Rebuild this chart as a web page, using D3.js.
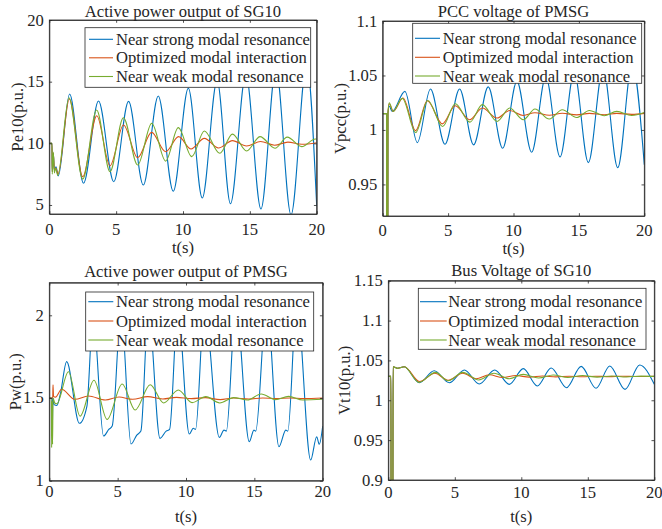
<!DOCTYPE html>
<html><head><meta charset="utf-8">
<script src="https://cdn.jsdelivr.net/npm/d3@7"></script>
<style>
body{margin:0;background:#fff}
text{font-family:"Liberation Serif","Times New Roman",serif;fill:#262626}
</style>
</head><body>
<svg id="chart" width="662" height="529"></svg>
<script>
// ---------------- data ----------------
const seriesNames = ["Near strong modal resonance","Optimized modal interaction","Near weak modal resonance"];
const timeTicks = [0,5,10,15,20];

// Panel 1: Active power output of SG10 (Pe10)
const pe10Ticks = [5,10,15,20];
const pe10Strong = [[0,10],[0.2,10],[0.22,7.7],[0.3,9.2],[0.38,7.8],[0.5,8.1],[0.67,7.35],[1.52,14.0],[2.56,6.76],[3.68,13.43],[4.82,6.89],[5.93,13.4],[7.03,6.62],[8.15,13.84],[9.27,6.12],[10.4,14.46],[11.44,5.57],[12.55,15.1],[13.55,5.1],[14.7,15.6],[15.83,4.68],[16.95,16.1],[18.08,4.2],[19.25,16.5],[20,4.9]];
const pe10Optimized = [[0,10],[0.2,10],[0.22,7.7],[0.3,9.2],[0.38,7.8],[0.5,8.0],[0.65,7.5],[1.5,13.6],[2.5,7.29],[3.55,12.24],[4.54,8.18],[5.55,11.49],[6.61,8.83],[7.65,10.89],[8.7,9.32],[9.67,10.54],[10.6,9.54],[11.6,10.4],[12.65,9.62],[13.7,10.22],[14.75,9.78],[15.8,10.15],[16.85,9.85],[17.85,10.1],[18.9,9.92],[20,10.05]];
const pe10Weak = [[0,10],[0.2,10],[0.22,7.5],[0.3,9.3],[0.38,7.6],[0.47,8.0],[0.63,7.4],[1.47,13.7],[2.5,7.1],[3.54,12.7],[4.54,7.7],[5.54,12.08],[6.61,8.24],[7.66,11.62],[8.7,8.56],[9.65,11.27],[10.65,8.92],[11.6,11.0],[12.75,9.19],[13.7,10.75],[14.76,9.38],[15.76,10.54],[16.88,9.6],[17.8,10.5],[18.88,9.73],[19.9,10.35],[20,10.33]];

// Panel 2: PCC voltage of PMSG (Vpcc)
const vpccTicks = [0.95,1,1.05,1.1];
const vpccStrong = [[0,1.015],[0.3,1.015],[0.31,0.7],[0.38,0.7],[0.4,1.015],[0.5,1.022],[0.72,1.017],[1.7,1.0354],[2.65,0.9884],[3.65,1.0376],[4.76,0.9869],[5.88,1.0376],[6.95,0.9863],[8.07,1.0395],[9.17,0.9832],[10.26,1.0446],[11.39,0.9795],[12.47,1.049],[13.56,0.9752],[14.64,1.053],[15.72,0.970],[16.85,1.057],[17.97,0.9653],[19.07,1.061],[20,0.968]];
const vpccOptimized = [[0,1.015],[0.3,1.015],[0.31,0.7],[0.38,0.7],[0.4,1.015],[0.5,1.024],[0.8,1.017],[1.55,1.0293],[2.52,0.9994],[3.41,1.0268],[4.56,1.0056],[5.55,1.0222],[6.65,1.0093],[7.62,1.0201],[8.74,1.0109],[9.71,1.0179],[10.75,1.0133],[11.64,1.0158],[12.74,1.0135],[13.73,1.0153],[14.83,1.0138],[15.8,1.0152],[16.94,1.014],[17.89,1.0152],[19.04,1.0143],[20,1.0152]];
const vpccWeak = [[0,1.015],[0.3,1.015],[0.31,0.7],[0.38,0.7],[0.4,1.015],[0.5,1.025],[0.8,1.017],[1.5,1.029],[2.52,0.9976],[3.45,1.027],[4.58,1.0031],[5.55,1.0241],[6.67,1.0072],[7.62,1.0232],[8.74,1.0078],[9.71,1.0201],[10.75,1.0093],[11.64,1.0192],[12.74,1.010],[13.73,1.0185],[14.83,1.0114],[15.8,1.0179],[16.94,1.013],[17.89,1.017],[19.04,1.0133],[20,1.016]];

// Panel 3: Active power output of PMSG (Pw)
const pwTicks = [1,1.5,2];
const pwStrong = [[0,1.5],[0.2,1.5],[0.22,1.3],[0.26,1.5],[0.35,1.46],[0.55,1.455],[0.8,1.52],[1.27,1.72],[2.2,1.347],[2.75,1.45],[3.2,2.0],[3.97,1.27],[4.35,1.31],[4.6,1.33],[5.25,2.02],[5.98,1.222],[6.4,1.276],[6.7,1.3],[7.25,2.03],[8.1,1.256],[8.55,1.3],[8.8,1.31],[9.4,2.04],[10.24,1.282],[10.53,1.317],[10.7,1.31],[11.35,2.05],[12.44,1.262],[12.78,1.306],[12.95,1.3],[13.65,2.06],[14.63,1.236],[14.97,1.306],[15.1,1.3],[15.9,2.07],[16.8,1.206],[17.3,1.306],[17.45,1.3],[18.1,2.08],[19.12,1.125],[19.56,1.266],[19.75,1.22],[20,1.33]];
const pwOptimized = [[0,1.5],[0.25,1.5],[0.27,1.58],[0.31,1.51],[0.45,1.505],[0.9,1.553],[1.88,1.492],[2.86,1.512],[4.1,1.488],[5.1,1.506],[6.1,1.492],[7.2,1.508],[8.3,1.494],[9.3,1.504],[10.4,1.496],[11.4,1.502],[12.5,1.49],[13.5,1.5],[14.6,1.494],[15.6,1.5],[16.6,1.496],[17.6,1.5],[18.6,1.496],[20,1.5]];
const pwWeak = [[0,1.5],[0.15,1.5],[0.17,1.2],[0.2,1.48],[0.24,1.22],[0.27,1.5],[0.4,1.47],[0.55,1.465],[1.4,1.659],[2.25,1.39],[3.27,1.607],[4.23,1.37],[5.33,1.585],[6.28,1.427],[7.38,1.58],[8.36,1.47],[9.44,1.548],[10.45,1.472],[11.45,1.508],[12.47,1.47],[13.48,1.502],[14.5,1.488],[15.5,1.524],[16.55,1.49],[17.5,1.51],[18.55,1.488],[20,1.492]];

// Panel 4: Bus Voltage of SG10 (Vt10)
const vt10Ticks = [0.9,0.95,1,1.05,1.1,1.15];
const vt10Strong = [[0,1.03],[0.2,1.03],[0.21,0.8],[0.34,0.8],[0.36,1.042],[0.7,1.04],[1.2,1.042],[2.33,1.022],[3.45,1.037],[4.59,1.022],[5.72,1.038],[6.84,1.0204],[8.0,1.038],[9.1,1.020],[10.15,1.0397],[11.2,1.018],[12.25,1.0405],[13.4,1.0158],[14.5,1.0425],[15.62,1.015],[16.65,1.043],[17.8,1.0137],[18.9,1.0443],[20,1.02]];
const vt10Optimized = [[0,1.03],[0.2,1.03],[0.21,0.8],[0.34,0.8],[0.36,1.042],[0.7,1.04],[1.2,1.042],[2.35,1.0235],[3.5,1.034],[4.5,1.025],[5.6,1.034],[6.6,1.027],[7.6,1.032],[8.6,1.0285],[9.6,1.031],[10.6,1.029],[11.6,1.0305],[12.6,1.0293],[13.6,1.0302],[14.6,1.0295],[15.6,1.0302],[16.6,1.0297],[17.6,1.0302],[18.6,1.0298],[20,1.03]];
const vt10Weak = [[0,1.03],[0.2,1.03],[0.21,0.8],[0.34,0.8],[0.36,1.042],[0.7,1.04],[1.2,1.042],[2.3,1.0225],[3.55,1.035],[4.5,1.0245],[5.6,1.035],[6.8,1.0255],[7.95,1.034],[9.1,1.027],[10.15,1.0325],[11.3,1.028],[12.4,1.0318],[13.5,1.0285],[14.6,1.031],[15.7,1.029],[16.8,1.0305],[17.9,1.0292],[19.0,1.0303],[20,1.03]];

// ---------------- layout / style ----------------
const colors = ["#0072BD","#D95319","#77AC30"];
const axisColor = "#262626";
const fs = 16.6;
const panels = [
  {title:"Active power output of SG10", ylabel:"Pe10(p.u.)", yDomain:[4.27,20], yTicks:pe10Ticks,
   series:[pe10Strong,pe10Optimized,pe10Weak],
   box:{l:49.3,r:316.7,t:20,b:214}, titleY:11, xTickY:229, xLabelY:247, yLabelX:17.5,
   legend:{x:85,y:27.7,w:225.7,h:59.6,rows:[39.3,57.8,76.5],lx0:89,lx1:113,tx:116}},
  {title:"PCC voltage of PMSG", ylabel:"Vpcc(p.u.)", yDomain:[0.921,1.1], yTicks:vpccTicks,
   series:[vpccStrong,vpccOptimized,vpccWeak],
   box:{l:382.7,r:644.3,t:21,b:216}, titleY:11.5, xTickY:230, xLabelY:248, yLabelX:340,
   legend:{x:412.7,y:23.3,w:229,h:60,rows:[38.3,57.3,76],lx0:415,lx1:440,tx:442.7}},
  {title:"Active power output of PMSG", ylabel:"Pw(p.u.)", yDomain:[1,2.197], yTicks:pwTicks,
   series:[pwStrong,pwOptimized,pwWeak],
   box:{l:49.3,r:322.7,t:282.7,b:480.7}, titleY:271.5, xTickY:491.5, xLabelY:516, yLabelX:15,
   legend:{x:85.7,y:292,w:228,h:59,rows:[301.7,321,340],lx0:88.3,lx1:113.3,tx:116}},
  {title:"Bus Voltage of SG10", ylabel:"Vt10(p.u.)", yDomain:[0.9,1.15], yTicks:vt10Ticks,
   series:[vt10Strong,vt10Optimized,vt10Weak],
   box:{l:388.3,r:654.3,t:280.7,b:480}, titleY:270, xTickY:492.5, xLabelY:516, yLabelX:344.5,
   legend:{x:418.3,y:288.3,w:227.7,h:61,rows:[301.7,321,340],lx0:420,lx1:446.7,tx:448.3}}
];

const svg = d3.select("#chart");
svg.append("rect").attr("width",662).attr("height",529).attr("fill","#fff");
const tickLen = 2.8;

panels.forEach((p,i)=>{
  const b = p.box;
  const x = d3.scaleLinear().domain([0,20]).range([b.l,b.r]);
  const y = d3.scaleLinear().domain(p.yDomain).range([b.b,b.t]);
  const g = svg.append("g");

  g.append("rect").attr("x",b.l).attr("y",b.t).attr("width",b.r-b.l).attr("height",b.b-b.t).attr("fill","#fff");

  const clipId = "clip"+i;
  svg.append("clipPath").attr("id",clipId).append("rect")
    .attr("x",b.l).attr("y",b.t).attr("width",b.r-b.l).attr("height",b.b-b.t);

  const line = d3.line().x(d=>x(d[0])).y(d=>y(d[1])).curve(d3.curveMonotoneX);
  const lg = g.append("g").attr("clip-path",`url(#${clipId})`);
  p.series.forEach((s,k)=>{
    lg.append("path").attr("d",line(s)).attr("fill","none")
      .attr("stroke",colors[k]).attr("stroke-width",1.1).attr("stroke-linejoin","round");
  });

  const bottom = d3.axisBottom(x).tickValues(timeTicks).tickSizeInner(-tickLen).tickSizeOuter(0).tickFormat(()=> "");
  const top = d3.axisTop(x).tickValues(timeTicks).tickSizeInner(-tickLen).tickSizeOuter(0).tickFormat(()=> "");
  const left = d3.axisLeft(y).tickValues(p.yTicks).tickSizeInner(-tickLen).tickSizeOuter(0).tickFormat(()=> "");
  const right = d3.axisRight(y).tickValues(p.yTicks).tickSizeInner(-tickLen).tickSizeOuter(0).tickFormat(()=> "");
  [[bottom,`translate(0,${b.b})`],[top,`translate(0,${b.t})`],[left,`translate(${b.l},0)`],[right,`translate(${b.r},0)`]].forEach(([ax,tr])=>{
    const a = g.append("g").attr("transform",tr).call(ax);
    a.selectAll("path").attr("stroke",axisColor).attr("stroke-width",0.8);
    a.selectAll("line").attr("stroke",axisColor).attr("stroke-width",0.8);
    a.selectAll("text").remove();
  });
  g.append("rect").attr("x",b.l).attr("y",b.t).attr("width",b.r-b.l).attr("height",b.b-b.t)
    .attr("fill","none").attr("stroke",axisColor).attr("stroke-width",0.8);

  g.selectAll(".xt").data(timeTicks).join("text")
    .attr("x",d=>x(d)).attr("y",p.xTickY).attr("text-anchor","middle")
    .attr("dominant-baseline","central").attr("font-size",fs).text(d=>String(d));
  g.selectAll(".yt").data(p.yTicks).join("text")
    .attr("x",b.l-5.5).attr("y",d=>y(d)).attr("text-anchor","end")
    .attr("dominant-baseline","central").attr("font-size",fs).text(d=>String(d));

  g.append("text").attr("x",(b.l+b.r)/2).attr("y",p.titleY).attr("text-anchor","middle")
    .attr("dominant-baseline","central").attr("font-size",fs).text(p.title);
  g.append("text").attr("x",(b.l+b.r)/2).attr("y",p.xLabelY).attr("text-anchor","middle")
    .attr("dominant-baseline","central").attr("font-size",fs).text("t(s)");
  g.append("text").attr("transform",`translate(${p.yLabelX},${(b.t+b.b)/2}) rotate(-90)`)
    .attr("text-anchor","middle").attr("dominant-baseline","central").attr("font-size",fs).text(p.ylabel);

  const L = p.legend;
  const leg = g.append("g");
  leg.append("rect").attr("x",L.x).attr("y",L.y).attr("width",L.w).attr("height",L.h)
    .attr("fill","#fff").attr("stroke",axisColor).attr("stroke-width",0.8);
  seriesNames.forEach((n,k)=>{
    leg.append("line").attr("x1",L.lx0).attr("x2",L.lx1).attr("y1",L.rows[k]).attr("y2",L.rows[k])
      .attr("stroke",colors[k]).attr("stroke-width",1.1);
    leg.append("text").attr("x",L.tx).attr("y",L.rows[k]).attr("dominant-baseline","central")
      .attr("font-size",fs).text(n);
  });
});
</script>
</body></html>
